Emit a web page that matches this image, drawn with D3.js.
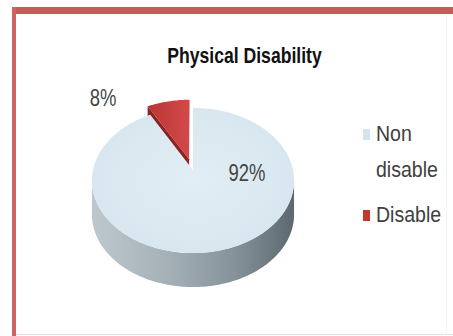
<!DOCTYPE html>
<html>
<head>
<meta charset="utf-8">
<script src="https://cdn.jsdelivr.net/npm/d3@7"></script>
<style>
  html, body { margin: 0; padding: 0; background: #fff; }
  svg { display: block; }
</style>
</head>
<body>
<svg id="chart" width="453" height="336"></svg>
<script>
// ---- data ----
const title = "Physical Disability";
const categories = ["Non disable", "Disable"];
const values = [92, 8];
const valueLabels = ["92%", "8%"];
const legendLines = [["Non", "disable"], ["Disable"]];

// ---- styles ----
const legendColors = ["#d3e4ee", "#c0392b"];

const svg = d3.select("#chart");
const W = 453, H = 336;
svg.append("rect").attr("width", W).attr("height", H).attr("fill", "#fff");

const defs = svg.append("defs");
const wallGrad = defs.append("linearGradient").attr("id", "wallGrad")
  .attr("gradientUnits", "userSpaceOnUse").attr("x1", 93).attr("x2", 296).attr("y1", 0).attr("y2", 0);
[[0, "#bcc8ce"], [0.35, "#a6b2b8"], [0.7, "#86929a"], [1, "#5b676d"]].forEach(([o, c]) =>
  wallGrad.append("stop").attr("offset", o).attr("stop-color", c));
const redGrad = defs.append("linearGradient").attr("id", "redGrad")
  .attr("gradientUnits", "userSpaceOnUse").attr("x1", 145).attr("x2", 192).attr("y1", 0).attr("y2", 0);
[[0, "#b83434"], [1, "#d44a4a"]].forEach(([o, c]) =>
  redGrad.append("stop").attr("offset", o).attr("stop-color", c));
const topGrad = defs.append("radialGradient").attr("id", "topGrad")
  .attr("cx", "50%").attr("cy", "50%").attr("r", "60%");
[[0, "#e2eef5"], [1, "#d6e5ee"]].forEach(([o, c]) =>
  topGrad.append("stop").attr("offset", o).attr("stop-color", c));

// ---- frame ----
svg.append("rect").attr("x", 12).attr("y", 7).attr("width", W - 12).attr("height", 7).attr("fill", "#c85a58");
svg.append("rect").attr("x", 12).attr("y", 7).attr("width", 4).attr("height", H - 7).attr("fill", "#cd6563");
svg.append("line").attr("x1", 16).attr("x2", W).attr("y1", 334.5).attr("y2", 334.5).attr("stroke", "#eadcdc");
svg.append("line").attr("x1", 446.5).attr("x2", 446.5).attr("y1", 14).attr("y2", H).attr("stroke", "#f3f3f3");

// ---- title ----
svg.append("text")
  .attr("transform", "translate(244.5,63) scale(0.8,1)")
  .attr("text-anchor", "middle")
  .attr("font-family", "'Liberation Sans', Arial, sans-serif")
  .attr("font-weight", "bold")
  .attr("font-size", 22)
  .attr("fill", "#111")
  .text(title);

// ---- 3D pie ----
const cx = 193, cy = 170, a = 100, b = 71, k = 0.145, depth = 34;
const pie = d3.pie().sort(null).value(d => d);
const arcs = pie(values);

function proj(theta, r, off, dy) {
  const u = r * Math.sin(theta) + off.u;
  const v = -r * Math.cos(theta) + off.v;
  const s = 1 / (1 - k * v);
  return [cx + a * u * s, cy + b * v * s + (dy || 0)];
}
function arcPts(t0, t1, off, dy) {
  const n = Math.max(4, Math.ceil(Math.abs(t1 - t0) / 0.02));
  return d3.range(n + 1).map(i => proj(t0 + (t1 - t0) * i / n, 1, off, dy));
}
const line = d3.line();
const explode = [0, 0.16];
const offsets = arcs.map((d, i) => {
  const mid = (d.startAngle + d.endAngle) / 2;
  return { u: explode[i] * Math.sin(mid), v: -explode[i] * Math.cos(mid) };
});

const g = svg.append("g");

// Disable slice (exploded, behind)
{
  const d = arcs[1], off = offsets[1];
  const c0 = proj(0, 0, off), e0 = proj(d.startAngle, 1, off);
  g.append("path")
    .attr("d", line([c0, e0, [e0[0], e0[1] + depth], [c0[0], c0[1] + depth]]) + "Z")
    .attr("fill", "#8c2222");
  g.append("path")
    .attr("d", line([c0, ...arcPts(d.startAngle, d.endAngle, off)]) + "Z")
    .attr("fill", "url(#redGrad)");
}

// Non disable slice
{
  const d = arcs[0], off = offsets[0];
  const tR = Math.acos(-k), tL = 2 * Math.PI - tR;
  const topArc = arcPts(tR, tL, off);
  const botArc = arcPts(tL, tR, off, depth);
  g.append("path")
    .attr("d", line([...topArc, ...botArc]) + "Z")
    .attr("fill", "url(#wallGrad)");
  const c0 = proj(0, 0, off);
  g.append("path")
    .attr("d", line([c0, ...arcPts(d.startAngle, d.endAngle, off)]) + "Z")
    .attr("fill", "url(#topGrad)");
}

// ---- data labels ----
const labelPos = [[247, 181], [103, 106]];
valueLabels.forEach((t, i) => {
  svg.append("text")
    .attr("transform", `translate(${labelPos[i][0]},${labelPos[i][1]}) scale(0.88,1.1)`)
    .attr("text-anchor", "middle")
    .attr("font-family", "'Liberation Sans', Arial, sans-serif")
    .attr("font-size", 21)
    .attr("fill", "#454545")
    .text(t);
});

// ---- legend ----
const legY = [[141, 177], [222]];
const keyY = [129, 210];
categories.forEach((c, i) => {
  svg.append("rect").attr("x", 363).attr("y", keyY[i]).attr("width", 7).attr("height", 11)
    .attr("fill", legendColors[i]);
  legendLines[i].forEach((ln, j) => {
    svg.append("text")
      .attr("transform", `translate(376,${legY[i][j]}) scale(0.93,1.05)`)
      .attr("font-family", "'Liberation Sans', Arial, sans-serif")
      .attr("font-size", 21)
      .attr("fill", "#404040")
      .text(ln);
  });
});
</script>
</body>
</html>
